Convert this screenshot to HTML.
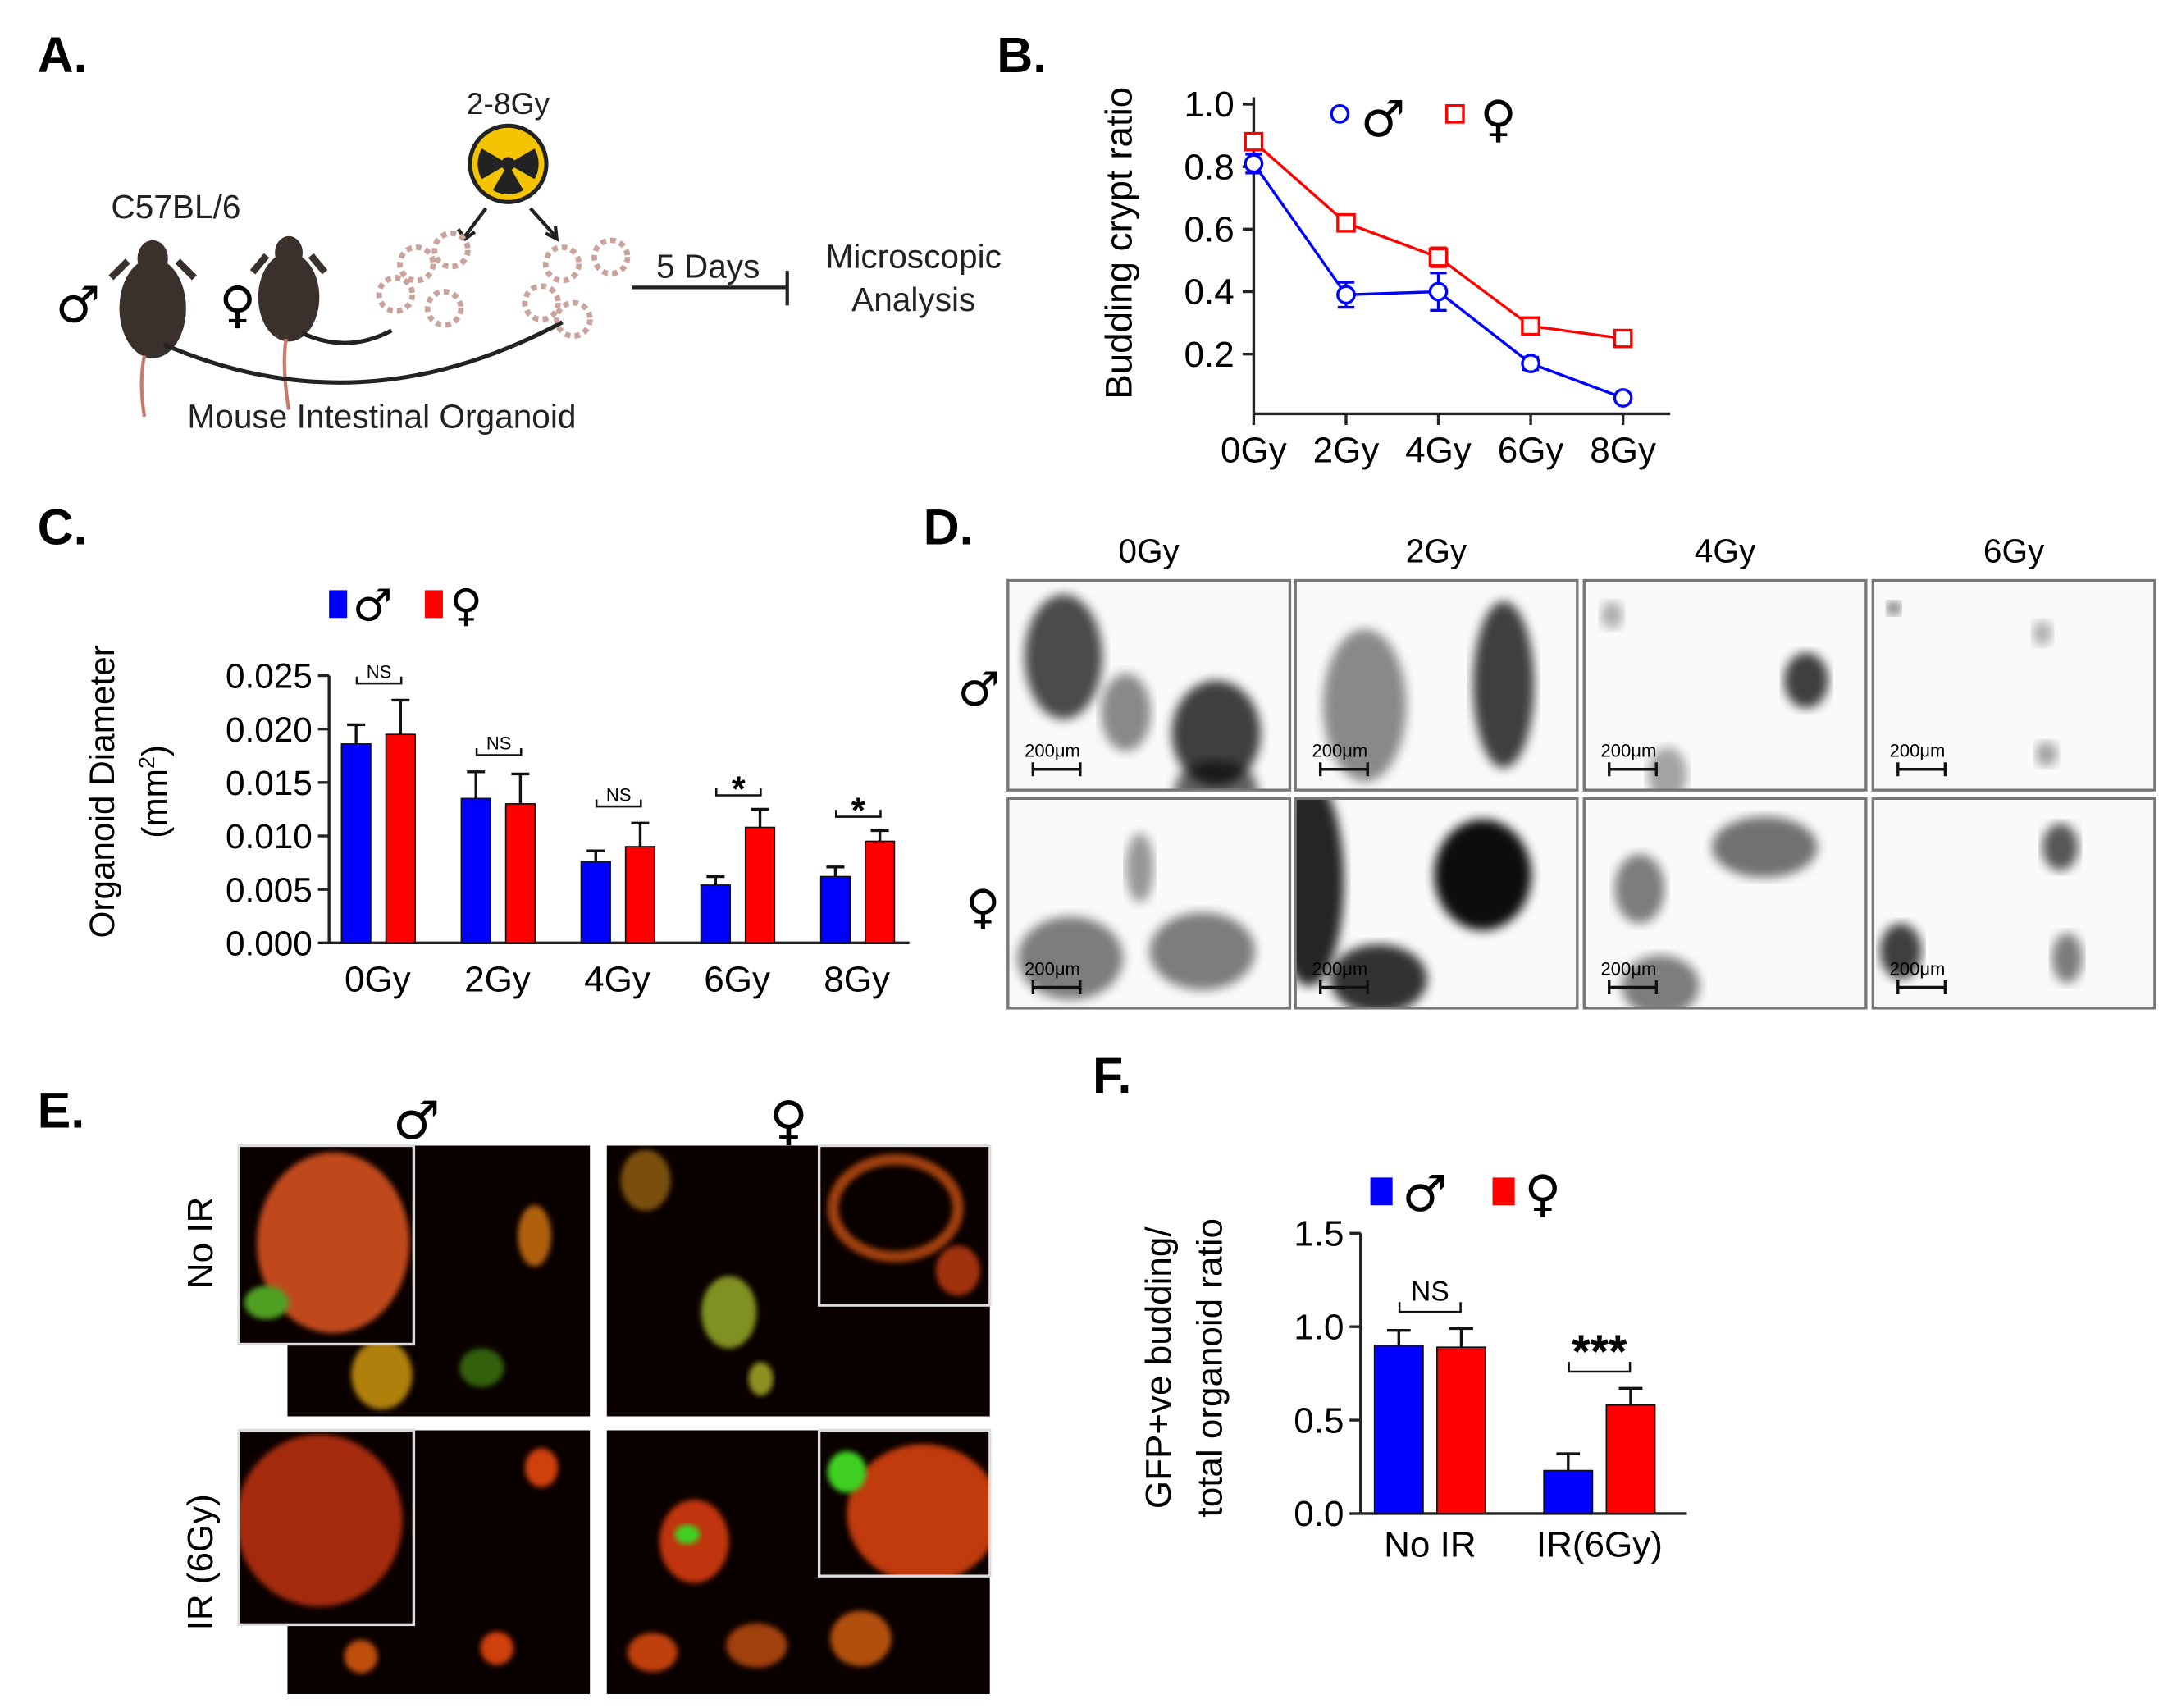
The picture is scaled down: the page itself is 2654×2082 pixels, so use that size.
<!DOCTYPE html>
<html><head><meta charset="utf-8"><style>
html,body{margin:0;padding:0;background:#fff;}
svg{display:block;font-family:"Liberation Sans","DejaVu Sans",sans-serif;}
.sym{font-family:"DejaVu Sans",sans-serif;font-weight:bold;}
</style></head><body>
<svg id="fig" width="2654" height="2082" viewBox="0 0 1568 1230" xmlns="http://www.w3.org/2000/svg">
<defs>
<filter id="blur4"><feGaussianBlur stdDeviation="4"/></filter>
<filter id="blur2"><feGaussianBlur stdDeviation="2"/></filter>
</defs>
<rect width="1568" height="1230" fill="#fff"/>

<!-- Panel A -->
<g>
<text x="27" y="52" font-size="36" font-weight="bold">A.</text>
<text x="80" y="157" font-size="24" fill="#222">C57BL/6</text>
<text x="366" y="82" font-size="22" text-anchor="middle" fill="#222">2-8Gy</text>
<g>
<circle cx="366" cy="118" r="29" fill="#222"/><circle cx="366" cy="118" r="26" fill="#f5c400"/>
<circle cx="366" cy="118" r="5" fill="#222"/>
<path d="M366 118 L385 107 A22 22 0 0 1 385 129 Z M366 118 L347 107 A22 22 0 0 0 347 129 Z M366 118 L355 137 A22 22 0 0 0 377 137 Z" fill="#222"/>
</g>
<path d="M350 150 L335 170 M382 150 L400 170" stroke="#222" stroke-width="2.5"/>
<path d="M330 165 L335 172 L342 167 M393 168 L401 172 L400 163" stroke="#222" stroke-width="2.5" fill="none"/>
<g>
<ellipse cx="110" cy="222" rx="24" ry="36" fill="#3a302c"/><ellipse cx="110" cy="186" rx="11" ry="13" fill="#3a302c"/>
<path d="M92 188 L80 200 M128 188 L140 200" stroke="#3a302c" stroke-width="5"/>
<path d="M104 256 Q100 275 104 300" stroke="#c87a6c" stroke-width="2.5" fill="none"/>
</g>
<text x="40" y="232" font-size="36" class="sym" font-weight="normal">♂</text>
<g>
<ellipse cx="208" cy="214" rx="22" ry="32" fill="#3a302c"/><ellipse cx="208" cy="182" rx="10" ry="12" fill="#3a302c"/>
<path d="M192 184 L182 196 M224 184 L234 196" stroke="#3a302c" stroke-width="5"/>
<path d="M206 244 Q203 265 208 295" stroke="#c87a6c" stroke-width="2.5" fill="none"/>
</g>
<text x="158" y="232" font-size="36" class="sym" font-weight="normal">♀</text>
<path d="M218 240 Q250 255 282 238" stroke="#222" stroke-width="3" fill="none"/>
<path d="M118 248 Q260 310 405 232" stroke="#222" stroke-width="3" fill="none"/>
<g fill="none" stroke="#c9a39c" stroke-width="4" stroke-dasharray="4 3">
<circle cx="300" cy="190" r="12"/><circle cx="325" cy="180" r="12"/><circle cx="285" cy="212" r="12"/><circle cx="320" cy="222" r="12"/>
<circle cx="405" cy="190" r="12"/><circle cx="440" cy="185" r="12"/><circle cx="390" cy="218" r="12"/><circle cx="413" cy="230" r="12"/>
</g>
<text x="510" y="200" font-size="24" text-anchor="middle" fill="#222">5 Days</text>
<path d="M455 207 L567 207 M567 195 L567 220" stroke="#222" stroke-width="2.5"/>
<text x="658" y="193" font-size="24" text-anchor="middle" fill="#222">Microscopic</text>
<text x="658" y="224" font-size="24" text-anchor="middle" fill="#222">Analysis</text>
<text x="275" y="308" font-size="24" text-anchor="middle" fill="#222">Mouse Intestinal Organoid</text>
</g>

<!-- Panel B -->
<g id="panelB">
<text x="718" y="52" font-size="36" font-weight="bold">B.</text>
<text transform="translate(815,175) rotate(-90)" font-size="27" text-anchor="middle">Budding crypt ratio</text>
</g>

<!-- Panel C -->
<g id="panelC">
<text x="27" y="392" font-size="36" font-weight="bold">C.</text>
<text transform="translate(82,570) rotate(-90)" font-size="25" text-anchor="middle">Organoid Diameter</text>
<text transform="translate(120,570) rotate(-90)" font-size="25" text-anchor="middle">(mm<tspan font-size="16" dy="-9">2</tspan><tspan dy="9">)</tspan></text>
</g>

<!-- Panel D -->
<g id="panelD">
<text x="665" y="392" font-size="36" font-weight="bold">D.</text>
<text x="705" y="508" font-size="34" class="sym" text-anchor="middle">♂</text>
<text x="708" y="665" font-size="34" class="sym" text-anchor="middle">♀</text>
</g>

<!-- Panel E -->
<g>
<text x="27" y="812" font-size="36" font-weight="bold">E.</text>
<text x="300" y="820" font-size="38" class="sym" text-anchor="middle">♂</text>
<text x="568" y="820" font-size="38" class="sym" text-anchor="middle">♀</text>
<text transform="translate(153,895) rotate(-90)" font-size="26" text-anchor="middle">No IR</text>
<text transform="translate(153,1125) rotate(-90)" font-size="26" text-anchor="middle">IR (6Gy)</text>
<clipPath id="cpE1"><path d="M172 825 H425 V1020 H207 V968 H172 Z"/></clipPath>
<clipPath id="cpE2"><rect x="437" y="825" width="276" height="195"/></clipPath>
<clipPath id="cpE3"><path d="M172 1030 H425 V1220 H207 V1170 H172 Z"/></clipPath>
<clipPath id="cpE4"><rect x="437" y="1030" width="276" height="190"/></clipPath>
<clipPath id="cpI1"><rect x="172" y="825" width="126" height="143"/></clipPath>
<clipPath id="cpI2"><rect x="590" y="825" width="123" height="115"/></clipPath>
<clipPath id="cpI3"><rect x="172" y="1030" width="126" height="140"/></clipPath>
<clipPath id="cpI4"><rect x="590" y="1030" width="123" height="105"/></clipPath>
<g>
<g clip-path="url(#cpE1)">
<path d="M172 825 H425 V1020 H207 V968 H172 Z" fill="#0a0000"/>
<ellipse cx="275" cy="990" rx="22" ry="25" fill="#b08010" filter="url(#blur2)"/>
<ellipse cx="385" cy="890" rx="12" ry="22" fill="#b06010" filter="url(#blur2)"/>
<ellipse cx="347" cy="985" rx="16" ry="14" fill="#306010" filter="url(#blur2)"/>
</g>
<g clip-path="url(#cpI1)"><rect x="172" y="825" width="126" height="143" fill="#0a0000"/>
<ellipse cx="240" cy="895" rx="55" ry="65" fill="#c04a1a" filter="url(#blur2)"/>
<ellipse cx="192" cy="938" rx="16" ry="12" fill="#50a020" filter="url(#blur2)"/></g>
<rect x="172" y="825" width="126" height="143" fill="none" stroke="#ddd" stroke-width="2"/>
</g>
<g>
<g clip-path="url(#cpE2)">
<rect x="437" y="825" width="276" height="195" fill="#0a0000"/>
<ellipse cx="465" cy="850" rx="18" ry="22" fill="#7a5010" filter="url(#blur2)"/>
<ellipse cx="525" cy="945" rx="20" ry="26" fill="#809020" filter="url(#blur2)"/>
<ellipse cx="548" cy="993" rx="9" ry="12" fill="#909020" filter="url(#blur2)"/>
</g>
<g clip-path="url(#cpI2)"><rect x="590" y="825" width="123" height="115" fill="#0a0000"/>
<ellipse cx="645" cy="870" rx="45" ry="35" fill="none" stroke="#a04010" stroke-width="8" filter="url(#blur2)"/>
<ellipse cx="690" cy="915" rx="16" ry="18" fill="#a03010" filter="url(#blur2)"/></g>
<rect x="590" y="825" width="123" height="115" fill="none" stroke="#ddd" stroke-width="2"/>
</g>
<g>
<g clip-path="url(#cpE3)">
<path d="M172 1030 H425 V1220 H207 V1170 H172 Z" fill="#0a0000"/>
<ellipse cx="390" cy="1057" rx="12" ry="14" fill="#d04010" filter="url(#blur2)"/>
<ellipse cx="260" cy="1193" rx="12" ry="12" fill="#c05010" filter="url(#blur2)"/>
<ellipse cx="358" cy="1187" rx="12" ry="12" fill="#d04010" filter="url(#blur2)"/>
</g>
<g clip-path="url(#cpI3)"><rect x="172" y="1030" width="126" height="140" fill="#0a0000"/>
<ellipse cx="230" cy="1095" rx="60" ry="62" fill="#a42a10" filter="url(#blur2)"/></g>
<rect x="172" y="1030" width="126" height="140" fill="none" stroke="#ddd" stroke-width="2"/>
</g>
<g>
<g clip-path="url(#cpE4)">
<rect x="437" y="1030" width="276" height="190" fill="#0a0000"/>
<ellipse cx="500" cy="1110" rx="25" ry="30" fill="#c03510" filter="url(#blur2)"/>
<ellipse cx="495" cy="1105" rx="9" ry="7" fill="#40d020" filter="url(#blur2)"/>
<ellipse cx="470" cy="1190" rx="18" ry="14" fill="#c04010" filter="url(#blur2)"/>
<ellipse cx="545" cy="1185" rx="22" ry="16" fill="#a04010" filter="url(#blur2)"/>
<ellipse cx="620" cy="1180" rx="22" ry="20" fill="#b05010" filter="url(#blur2)"/>
</g>
<g clip-path="url(#cpI4)"><rect x="590" y="1030" width="123" height="105" fill="#0a0000"/>
<ellipse cx="665" cy="1090" rx="55" ry="50" fill="#c03a10" filter="url(#blur2)"/>
<ellipse cx="610" cy="1060" rx="14" ry="15" fill="#40d020" filter="url(#blur2)"/></g>
<rect x="590" y="1030" width="123" height="105" fill="none" stroke="#ddd" stroke-width="2"/>
</g>
</g>

<!-- Panel F -->
<g id="panelF">
<text x="787" y="787" font-size="36" font-weight="bold">F.</text>
<text transform="translate(843,985) rotate(-90)" font-size="26" text-anchor="middle">GFP+ve budding/</text>
<text transform="translate(880,985) rotate(-90)" font-size="26" text-anchor="middle">total organoid ratio</text>
</g>
</svg>
<script>
const NS = "http://www.w3.org/2000/svg";
// ---- Panel B data ----
const bCategories = ["0Gy","2Gy","4Gy","6Gy","8Gy"];
const bMale = [0.81,0.39,0.40,0.17,0.06];
const bMaleErr = [0.03,0.04,0.06,0.02,0.01];
const bFemale = [0.88,0.62,0.51,0.29,0.25];
const bFemaleErr = [0.02,0.02,0.03,0.01,0.01];
const bTicks = [0.2,0.4,0.6,0.8,1.0];
// ---- Panel C data ----
const cCategories = ["0Gy","2Gy","4Gy","6Gy","8Gy"];
const cMale = [0.0186,0.0135,0.0076,0.0054,0.0062];
const cMaleErr = [0.0018,0.0025,0.0010,0.0008,0.0009];
const cFemale = [0.0195,0.0130,0.0090,0.0108,0.0095];
const cFemaleErr = [0.0032,0.0028,0.0022,0.0017,0.0010];
const cSig = ["NS","NS","NS","*","*"];
const cTicks = [0,0.005,0.010,0.015,0.020,0.025];
const cTickLabels = ["0.000","0.005","0.010","0.015","0.020","0.025"];
// ---- Panel F data ----
const fCategories = ["No IR","IR(6Gy)"];
const fMale = [0.90,0.23];
const fMaleErr = [0.08,0.09];
const fFemale = [0.89,0.58];
const fFemaleErr = [0.10,0.09];
const fSig = ["NS","***"];
const fTicks = [0.0,0.5,1.0,1.5];
const fTickLabels = ["0.0","0.5","1.0","1.5"];

function mk(parent, tag, attrs, text){
  const e = document.createElementNS(NS, tag);
  for (const k in attrs) e.setAttribute(k, attrs[k]);
  if (text !== undefined) e.textContent = text;
  parent.appendChild(e); return e;
}
const BLUE="#0000ff", RED="#ff0000";

// Panel B
(function(){
  const g = document.getElementById("panelB");
  const x0=903, x1=1203, yTop=70, yBase=298;
  const y = v => 75 + (1 - v) * 225;
  const x = i => 903 + i * 66.5;
  mk(g,"line",{x1:x0,y1:yTop,x2:x0,y2:yBase,stroke:"#222","stroke-width":2});
  mk(g,"line",{x1:x0,y1:yBase,x2:x1,y2:yBase,stroke:"#222","stroke-width":2});
  bTicks.forEach(t=>{
    mk(g,"line",{x1:x0-8,y1:y(t),x2:x0,y2:y(t),stroke:"#222","stroke-width":2});
    const tl = mk(g,"text",{x:x0-14,y:y(t)+9,"font-size":26,"text-anchor":"end"},t.toFixed(1));
    
    
  });
  bCategories.forEach((c,i)=>{
    mk(g,"line",{x1:x(i),y1:yBase,x2:x(i),y2:yBase+8,stroke:"#222","stroke-width":2});
    const tl = mk(g,"text",{x:x(i),y:333,"font-size":26,"text-anchor":"middle"},c);
    
    
  });
  function series(vals, errs, col, shape, name){
    const pts = vals.map((v,i)=>x(i)+","+y(v)).join(" ");
    const pl = mk(g,"polyline",{points:pts,fill:"none",stroke:col,"stroke-width":2});
    
    
    vals.forEach((v,i)=>{
      mk(g,"line",{x1:x(i),y1:y(v+errs[i]),x2:x(i),y2:y(v-errs[i]),stroke:col,"stroke-width":2});
      mk(g,"line",{x1:x(i)-6,y1:y(v+errs[i]),x2:x(i)+6,y2:y(v+errs[i]),stroke:col,"stroke-width":2});
      mk(g,"line",{x1:x(i)-6,y1:y(v-errs[i]),x2:x(i)+6,y2:y(v-errs[i]),stroke:col,"stroke-width":2});
      let m;
      if(shape==="c") m = mk(g,"circle",{cx:x(i),cy:y(v),r:6,fill:"#fff",stroke:col,"stroke-width":2});
      else m = mk(g,"rect",{x:x(i)-6,y:y(v)-6,width:12,height:12,fill:"#fff",stroke:col,"stroke-width":2});
      
      
    });
  }
  series(bMale,bMaleErr,BLUE,"c","b-male");
  series(bFemale,bFemaleErr,RED,"s","b-female");
  const l1 = mk(g,"circle",{cx:965,cy:82,r:6,fill:"#fff",stroke:BLUE,"stroke-width":2});
   
  const l2 = mk(g,"text",{x:980,y:98,"font-size":36,"class":"sym"},"♂");
   
  const l3 = mk(g,"rect",{x:1042,y:76,width:12,height:12,fill:"#fff",stroke:RED,"stroke-width":2});
   
  const l4 = mk(g,"text",{x:1066,y:98,"font-size":36,"class":"sym"},"♀");
   
})();

// Panel C
(function(){
  const g = document.getElementById("panelC");
  const x0=237, x1=655, yBase=679;
  const y = v => yBase - v / 0.005 * 38.5;
  const cx = i => 267 + i * 86.3;
  mk(g,"line",{x1:x0,y1:y(0.025),x2:x0,y2:yBase,stroke:"#222","stroke-width":2});
  mk(g,"line",{x1:x0,y1:yBase,x2:x1,y2:yBase,stroke:"#222","stroke-width":2});
  cTicks.forEach((t,i)=>{
    mk(g,"line",{x1:x0-8,y1:y(t),x2:x0,y2:y(t),stroke:"#222","stroke-width":2});
    const tl = mk(g,"text",{x:x0-12,y:y(t)+9,"font-size":25,"text-anchor":"end"},cTickLabels[i]);
     
  });
  cCategories.forEach((c,i)=>{
    const tl = mk(g,"text",{x:cx(i)+5,y:714,"font-size":26,"text-anchor":"middle"},c);
     
    [[cMale,cMaleErr,BLUE,-21,'c-bar-male'],[cFemale,cFemaleErr,RED,11,'c-bar-female']].forEach(([vals,errs,col,off,name])=>{
      const v=vals[i], e=errs[i], bx=cx(i)+off;
      const r = mk(g,"rect",{x:bx,y:y(v),width:21,height:yBase-y(v),fill:col,stroke:"#111","stroke-width":1});
       
      mk(g,"line",{x1:bx+10.5,y1:y(v),x2:bx+10.5,y2:y(v+e),stroke:"#111","stroke-width":2});
      mk(g,"line",{x1:bx+4,y1:y(v+e),x2:bx+17,y2:y(v+e),stroke:"#111","stroke-width":2});
    });
    const top = Math.max(cMale[i]+cMaleErr[i], cFemale[i]+cFemaleErr[i]);
    let by = y(top) - 12;
    if (cSig[i]!=="NS") by = y(cFemale[i]+cFemaleErr[i]) - 10;
    mk(g,"path",{d:`M${cx(i)-10} ${by-5} V${by} H${cx(i)+22} V${by-5}`,stroke:"#111","stroke-width":1.5,fill:"none"});
    const s = mk(g,"text",{x:cx(i)+6,y:by-(cSig[i]==="NS"?4:-4),"font-size":cSig[i]==="NS"?13:26,"text-anchor":"middle","font-weight":cSig[i]==="NS"?"normal":"bold"},cSig[i]);
     
  });
  const a = mk(g,"rect",{x:237,y:425,width:13,height:20,fill:BLUE});
   
  const b = mk(g,"text",{x:254,y:447,"font-size":32,"class":"sym"},"♂");
   
  const c = mk(g,"rect",{x:306,y:425,width:13,height:20,fill:RED});
   
  const d = mk(g,"text",{x:324,y:447,"font-size":32,"class":"sym"},"♀");
   
})();

// Panel D micrographs
(function(){
  const g = document.getElementById("panelD");
  const cols=[726,933,1141,1349], colW=203, rows=[418,575], rowH=151;
  const heads=["0Gy","2Gy","4Gy","6Gy"];
  const blobs = [
    [[[40,55,28,45,0.7],[85,95,18,28,0.45],[150,110,32,38,0.75],[150,150,30,20,0.6]],[[50,90,30,55,0.45],[150,75,22,60,0.75]],[[160,72,16,20,0.75],[60,140,14,20,0.35],[20,25,8,10,0.3]],[[122,38,7,9,0.3],[125,125,8,9,0.35],[15,20,5,5,0.6]]],
    [[[95,50,10,25,0.4],[45,115,38,30,0.5],[140,110,38,28,0.5]],[[10,60,25,75,0.85],[135,55,35,40,0.95],[60,130,35,25,0.8]],[[130,35,38,22,0.55],[40,65,18,25,0.5],[55,135,28,22,0.5]],[[135,35,13,17,0.65],[20,110,15,20,0.75],[140,115,11,18,0.5]]]
  ];
  heads.forEach((h,ci)=>{
    const t = mk(g,"text",{x:cols[ci]+colW/2,y:405,"font-size":24,"text-anchor":"middle"},h);
     
    rows.forEach((ry,ri)=>{
      const cid = "cpD"+ri+ci;
      const cp = mk(g,"clipPath",{id:cid});
      mk(cp,"rect",{x:cols[ci],y:ry,width:colW,height:rowH});
      const p = mk(g,"g",{});
       
      mk(p,"rect",{x:cols[ci],y:ry,width:colW,height:rowH,fill:"#fafafa"});
      const inner = mk(p,"g",{"clip-path":`url(#${cid})`});
      blobs[ri][ci].forEach(b=>{
        mk(inner,"ellipse",{cx:cols[ci]+b[0],cy:ry+b[1],rx:b[2],ry:b[3],fill:"#000","fill-opacity":b[4],filter:"url(#blur4)"});
      });
      mk(p,"rect",{x:cols[ci],y:ry,width:colW,height:rowH,fill:"none",stroke:"#777","stroke-width":2});
      mk(p,"text",{x:cols[ci]+12,y:ry+127,"font-size":13},"200μm");
      mk(p,"path",{d:`M${cols[ci]+18} ${ry+136} H${cols[ci]+52} M${cols[ci]+18} ${ry+131} V${ry+141} M${cols[ci]+52} ${ry+131} V${ry+141}`,stroke:"#111","stroke-width":2});
    });
  });
})();

// Panel F
(function(){
  const g = document.getElementById("panelF");
  const x0=980, x1=1215, yBase=1090;
  const y = v => yBase - v / 0.5 * 67.3;
  const cx = i => 1030 + i * 122;
  mk(g,"line",{x1:x0,y1:y(1.5),x2:x0,y2:yBase,stroke:"#222","stroke-width":2});
  mk(g,"line",{x1:x0,y1:yBase,x2:x1,y2:yBase,stroke:"#222","stroke-width":2});
  fTicks.forEach((t,i)=>{
    mk(g,"line",{x1:x0-8,y1:y(t),x2:x0,y2:y(t),stroke:"#222","stroke-width":2});
    const tl = mk(g,"text",{x:x0-12,y:y(t)+9,"font-size":26,"text-anchor":"end"},fTickLabels[i]);
     
  });
  fCategories.forEach((c,i)=>{
    const tl = mk(g,"text",{x:cx(i),y:1121,"font-size":26,"text-anchor":"middle"},c);
     
    [[fMale,fMaleErr,BLUE,-40,'f-bar-male'],[fFemale,fFemaleErr,RED,5,'f-bar-female']].forEach(([vals,errs,col,off,name])=>{
      const v=vals[i], e=errs[i], bx=cx(i)+off;
      const r = mk(g,"rect",{x:bx,y:y(v),width:35,height:yBase-y(v),fill:col,stroke:"#111","stroke-width":1});
       
      mk(g,"line",{x1:bx+17.5,y1:y(v),x2:bx+17.5,y2:y(v+e),stroke:"#111","stroke-width":2});
      mk(g,"line",{x1:bx+9,y1:y(v+e),x2:bx+26,y2:y(v+e),stroke:"#111","stroke-width":2});
    });
    const top = Math.max(fMale[i]+fMaleErr[i], fFemale[i]+fFemaleErr[i]);
    const by = y(top) - 12;
    mk(g,"path",{d:`M${cx(i)-22} ${by-7} V${by} H${cx(i)+22} V${by-7}`,stroke:"#111","stroke-width":1.5,fill:"none"});
    const big = fSig[i]!=="NS";
    const s = mk(g,"text",{x:cx(i),y:big?by-3:by-8,"font-size":big?34:20,"text-anchor":"middle","font-weight":big?"bold":"normal"},fSig[i]);
     
  });
  const a = mk(g,"rect",{x:987,y:848,width:16,height:20,fill:BLUE});
   
  const b = mk(g,"text",{x:1010,y:872,"font-size":36,"class":"sym"},"♂");
   
  const c = mk(g,"rect",{x:1075,y:848,width:16,height:20,fill:RED});
   
  const d = mk(g,"text",{x:1098,y:872,"font-size":36,"class":"sym"},"♀");
   
})();
</script>
</body></html>
